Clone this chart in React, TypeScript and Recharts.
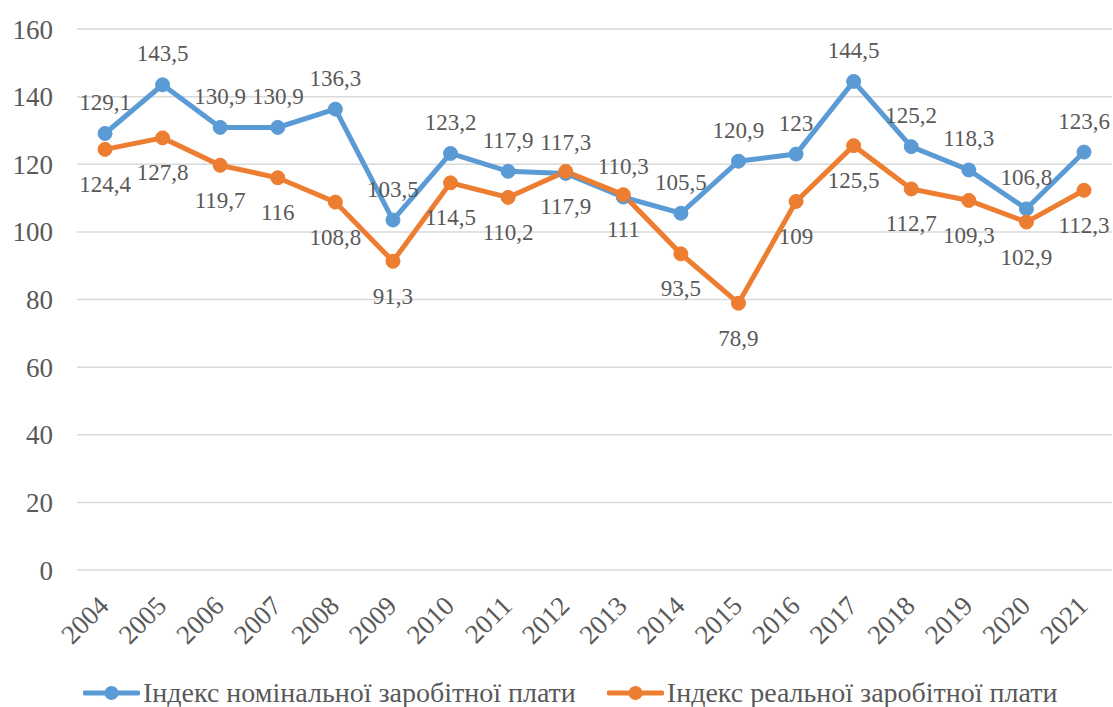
import React from 'react';
import { LineChart, Line, XAxis, YAxis, CartesianGrid, Legend } from 'recharts';

const years = ['2004', '2005', '2006', '2007', '2008', '2009', '2010', '2011', '2012', '2013', '2014', '2015', '2016', '2017', '2018', '2019', '2020', '2021'];
const nominal = [129.1, 143.5, 130.9, 130.9, 136.3, 103.5, 123.2, 117.9, 117.3, 110.3, 105.5, 120.9, 123, 144.5, 125.2, 118.3, 106.8, 123.6];
const real = [124.4, 127.8, 119.7, 116, 108.8, 91.3, 114.5, 110.2, 117.9, 111, 93.5, 78.9, 109, 125.5, 112.7, 109.3, 102.9, 112.3];
const yTicks = [0, 20, 40, 60, 80, 100, 120, 140, 160];

const NOMINAL_NAME = 'Індекс номінальної заробітної плати';
const REAL_NAME = 'Індекс реальної заробітної плати';

const BLUE = '#5B9BD5';
const ORANGE = '#ED7D31';
const TEXT = '#595959';
const FONT = "'Liberation Serif', 'Times New Roman', serif";

const data = years.map((year, i) => ({ year, nominal: nominal[i], real: real[i] }));

// decimal comma, as in the source
const fmt = (v: number) => String(v).replace('.', ',');

const XTick = ({ x, y, payload }: any) => (
    <text
        transform={`translate(${x - 1}, ${y + 23}) rotate(-45)`}
        textAnchor="end"
        dominantBaseline="central"
        fill={TEXT}
        fontSize={27}
        fontFamily={FONT}
    >
        {payload.value}
    </text>
);

const makeLabel = (dy: number) => ({ x, y, value }: any) => (
    <text x={x} y={y + dy} textAnchor="middle" dominantBaseline="central" fill={TEXT} fontSize={23} fontFamily={FONT}>
        {fmt(value)}
    </text>
);

const LegendItem = ({ color, label, style }: { color: string; label: string; style?: React.CSSProperties }) => (
    <div style={{ display: 'flex', alignItems: 'center', ...style }}>
        <svg width={57} height={20}>
            <line x1={2} y1={10} x2={55} y2={10} stroke={color} strokeWidth={5} strokeLinecap="round" />
            <circle cx={28.5} cy={10} r={7} fill={color} />
        </svg>
        <span style={{ marginLeft: 3, color: TEXT, fontSize: 28, fontFamily: FONT, whiteSpace: 'nowrap' }}>{label}</span>
    </div>
);

const renderLegend = () => (
    <div style={{ display: 'flex', paddingLeft: 83 }}>
        <LegendItem color={BLUE} label={NOMINAL_NAME} />
        <LegendItem color={ORANGE} label={REAL_NAME} style={{ marginLeft: 31 }} />
    </div>
);

export default function App() {
    return (
        <div style={{ position: 'absolute', left: 0, top: 0, background: '#fff', fontFamily: FONT }}>
            <LineChart width={1113} height={707} data={data} margin={{ top: 29, right: 1, bottom: 0, left: 0 }}>
                <CartesianGrid vertical={false} stroke="#D9D9D9" strokeWidth={1.5} />
                <XAxis
                    dataKey="year"
                    axisLine={false}
                    tickLine={false}
                    height={107}
                    tick={<XTick />}
                    interval={0}
                    padding={{ left: 28, right: 28 }}
                />
                <YAxis
                    domain={[0, 160]}
                    ticks={yTicks}
                    width={77}
                    axisLine={false}
                    tickLine={false}
                    tickSize={0}
                    tickMargin={24}
                    tick={{ fill: TEXT, fontSize: 27, fontFamily: FONT }}
                />
                <Legend
                    verticalAlign="bottom"
                    height={30}
                    content={renderLegend}
                    wrapperStyle={{ left: 0, width: 1113 }}
                />
                <Line
                    dataKey="nominal"
                    name={NOMINAL_NAME}
                    stroke={BLUE}
                    strokeWidth={5}
                    dot={{ r: 7, fill: BLUE, stroke: BLUE, strokeWidth: 1 }}
                    isAnimationActive={false}
                    label={makeLabel(-31)}
                />
                <Line
                    dataKey="real"
                    name={REAL_NAME}
                    stroke={ORANGE}
                    strokeWidth={5}
                    dot={{ r: 7, fill: ORANGE, stroke: ORANGE, strokeWidth: 1 }}
                    isAnimationActive={false}
                    label={makeLabel(35)}
                />
            </LineChart>
        </div>
    );
}
